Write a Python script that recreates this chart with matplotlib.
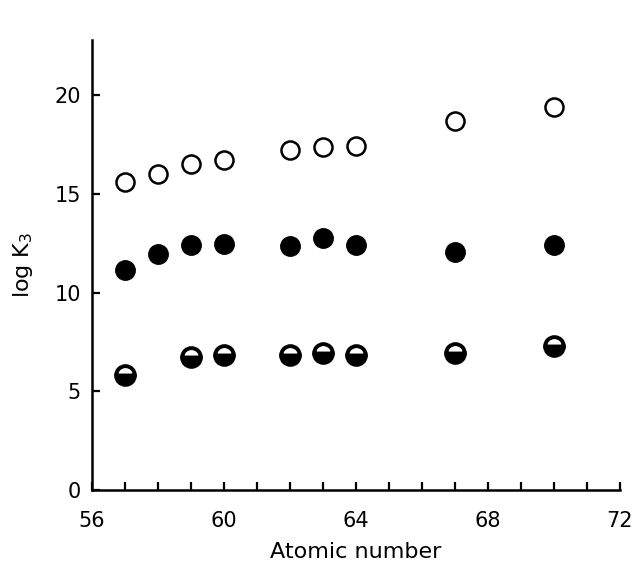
import matplotlib
matplotlib.use("Agg")
import matplotlib.pyplot as plt
from matplotlib.ticker import MultipleLocator

# atomic numbers of the lanthanides measured
z_open = [57, 58, 59, 60, 62, 63, 64, 67, 70]
logk_open = [15.6, 16.0, 16.5, 16.7, 17.2, 17.35, 17.4, 18.7, 19.4]

z_filled = [57, 58, 59, 60, 62, 63, 64, 67, 70]
logk_filled = [11.15, 11.95, 12.4, 12.45, 12.35, 12.75, 12.4, 12.05, 12.4]

z_half = [57, 59, 60, 62, 63, 64, 67, 70]
logk_half = [5.8, 6.75, 6.85, 6.85, 6.95, 6.85, 6.95, 7.3]

x_ticks = [56, 60, 64, 68, 72]
y_ticks = [0, 5, 10, 15, 20]

plt.rcParams['font.family'] = ['DejaVu Sans']

fig = plt.figure(figsize=(6.37, 5.72), dpi=100)
ax = fig.add_axes([0.1444, 0.1434, 0.8286, 0.787])

ax.plot(z_open, logk_open, 'o', ms=13, mfc='white', mec='black', mew=1.8, ls='none')
ax.plot(z_filled, logk_filled, 'o', ms=14, mfc='black', mec='black', ls='none')
ax.plot(z_half, logk_half, 'o', ms=13.5, fillstyle='bottom', mfc='black',
        mfcalt='white', mec='black', mew=2.8, ls='none')

ax.set_xlim(56, 72)
ax.set_ylim(0, 22.8)
ax.set_xticks(x_ticks)
ax.set_yticks(y_ticks)
ax.xaxis.set_minor_locator(MultipleLocator(1))

ax.spines['right'].set_visible(False)
ax.spines['top'].set_visible(False)
ax.spines['left'].set_linewidth(1.8)
ax.spines['bottom'].set_linewidth(1.8)
ax.tick_params(axis='x', which='major', pad=15)
ax.tick_params(axis='y', which='major', pad=8)
ax.tick_params(which='major', direction='in', length=6, width=1.6, labelsize=15)
ax.tick_params(which='minor', direction='in', length=6, width=1.6)

ax.set_xlabel("Atomic number", fontsize=16, labelpad=8)
ax.set_ylabel("log K$_3$", fontsize=16, labelpad=14)

fig.savefig("out.png", dpi=100)
